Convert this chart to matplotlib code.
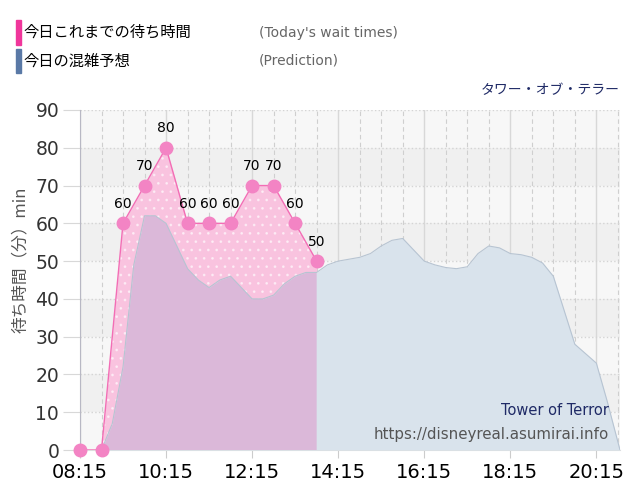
import matplotlib.pyplot as plt
from matplotlib.patches import Rectangle

plt.rcParams['font.family'] = ['Noto Sans CJK JP', 'DejaVu Sans']
plt.rcParams['hatch.linewidth'] = 0.8


def hours(s):
    h, m = s.split(':')
    return int(h) + int(m) / 60


# today's actual wait times (every 30 min)
actual_times = ['08:15', '08:45', '09:15', '09:45', '10:15', '10:45',
                '11:15', '11:45', '12:15', '12:45', '13:15', '13:45']
actual_waits = [0, 0, 60, 70, 80, 60, 60, 60, 70, 70, 60, 50]

# predicted crowd curve
pred_times = ['08:45', '09:00', '09:15', '09:30', '09:45', '10:00', '10:15',
              '10:30', '10:45', '11:00', '11:15', '11:30', '11:45', '12:00',
              '12:15', '12:30', '12:45', '13:00', '13:15', '13:30', '13:45',
              '14:00', '14:15', '14:30', '14:45', '15:00', '15:15', '15:30',
              '15:45', '16:00', '16:15', '16:30', '16:45', '17:00', '17:15',
              '17:30', '17:45', '18:00', '18:15', '18:30', '18:45', '19:00',
              '19:15', '19:30', '19:45', '20:00', '20:15', '20:30', '20:48']
pred_waits = [0, 7, 22, 49, 62, 62, 60, 54, 48, 45, 43, 45, 46, 43,
              40, 40, 41, 44, 46, 47, 47, 49, 50, 50.5, 51, 52, 54, 55.5,
              56, 53, 50, 49, 48.3, 48, 48.5, 52, 54, 53.5, 52, 51.7, 51, 49.5,
              46, 37, 28, 25.5, 23, 13, 0]

tick_labels = ['08:15', '10:15', '12:15', '14:15', '16:15', '18:15', '20:15']

ax_x = [hours(t) for t in actual_times]
px = [hours(t) for t in pred_times]
x0, x1 = hours('08:15'), hours('20:48')

fig = plt.figure(figsize=(6.4, 5), dpi=100)
ax = fig.add_axes([0.125, 0.1, 0.84375, 0.68])
ax.set_xlim(x0, x1)
ax.set_ylim(0, 90)

# striped background
for i, lo in enumerate(range(0, 90, 10)):
    ax.axhspan(lo, lo + 10, color='#f7f7f7' if i % 2 == 0 else '#f0f0f0',
               lw=0, zorder=0)

# grid
ax.set_yticks(range(0, 91, 10))
ax.set_xticks([hours(t) for t in tick_labels])
ax.set_xticklabels(tick_labels)
minor = [x0 + 0.5 * i for i in range(26) if x0 + 0.5 * i <= x1]
ax.set_xticks(minor, minor=True)
ax.grid(axis='y', color='#d4d4d4', ls=':', lw=1, zorder=1)
ax.grid(axis='x', which='minor', color='#cfcfcf', ls=(0, (4, 3)), lw=0.8, zorder=1)
ax.grid(axis='x', which='major', color='#d8d8d8', ls='-', lw=1, zorder=1)

# actual wait area
pink = ax.fill_between(ax_x, actual_waits, 0, color='#f9c3df', lw=0, zorder=2)
pink_dots = ax.fill_between(ax_x, actual_waits, 0, facecolor='none',
                            edgecolor='white', hatch='..', lw=0, zorder=2.1)
pink_dots.set_alpha(0.5)

# prediction area, purple where it overlaps today's area
ax.fill_between(px, pred_waits, 0, color='#d9e3ec', lw=0, zorder=3)
over = ax.fill_between(px, pred_waits, 0, color='#dbb8d9', lw=0, zorder=3.1)
over.set_clip_path(pink.get_paths()[0], transform=ax.transData)
ax.plot(px, pred_waits, color='#b7c4d2', lw=0.8, zorder=3.2)

ax.plot(ax_x, actual_waits, color='#f36db5', lw=1, zorder=4)
ax.plot(ax_x, actual_waits, 'o', ms=9, color='#f384c4', mec='#f384c4',
        zorder=5, clip_on=False)
for x, y in zip(ax_x, actual_waits):
    if y > 0:
        ax.annotate(str(y), (x, y), xytext=(0, 9), textcoords='offset points',
                    ha='center', va='bottom', fontsize=10, color='black',
                    family='DejaVu Sans', zorder=6)

for s in ['top', 'right']:
    ax.spines[s].set_visible(False)
ax.spines['left'].set_color('#b8b8c4')
ax.spines['bottom'].set_color('#dddddd')
ax.tick_params(axis='y', length=12, color='#d8d8d8', labelsize=13.5,
               labelcolor='#333333', pad=3)
ax.tick_params(axis='x', which='major', length=6, color='#cccccc',
               labelsize=14, labelcolor='black', pad=3)
ax.tick_params(axis='x', which='minor', length=0)
for lab in ax.get_xticklabels() + ax.get_yticklabels():
    lab.set_family('DejaVu Sans')

ax.set_ylabel('待ち時間（分）min', fontsize=12, color='#555555')
ax.yaxis.set_label_coords(-0.095, 0.56)

ax.text(0.98, 0.115, 'Tower of Terror', transform=ax.transAxes, ha='right',
        va='center', fontsize=10.5, color='#1f2a66', family='DejaVu Sans', zorder=7)
ax.text(0.98, 0.045, 'https://disneyreal.asumirai.info', transform=ax.transAxes,
        ha='right', va='center', fontsize=10.8, color='#555555',
        family='DejaVu Sans', zorder=7)

# header legend
fig.patches.append(Rectangle((0.025, 0.91), 0.008, 0.05, transform=fig.transFigure,
                             color='#f0369b'))
fig.patches.append(Rectangle((0.025, 0.854), 0.008, 0.048, transform=fig.transFigure,
                             color='#5a79a6'))
fig.text(0.037, 0.935, '今日これまでの待ち時間', fontsize=11, va='center')
fig.text(0.037, 0.878, '今日の混雑予想', fontsize=11, va='center')
fig.text(0.405, 0.935, "(Today's wait times)", fontsize=10, va='center',
         color='#666666', family='DejaVu Sans')
fig.text(0.405, 0.878, '(Prediction)', fontsize=10, va='center', color='#666666',
         family='DejaVu Sans')
fig.text(0.969, 0.82, 'タワー・オブ・テラー', fontsize=10, va='center', ha='right',
         color='#1f2a66')

plt.savefig('out.png', dpi=100)
